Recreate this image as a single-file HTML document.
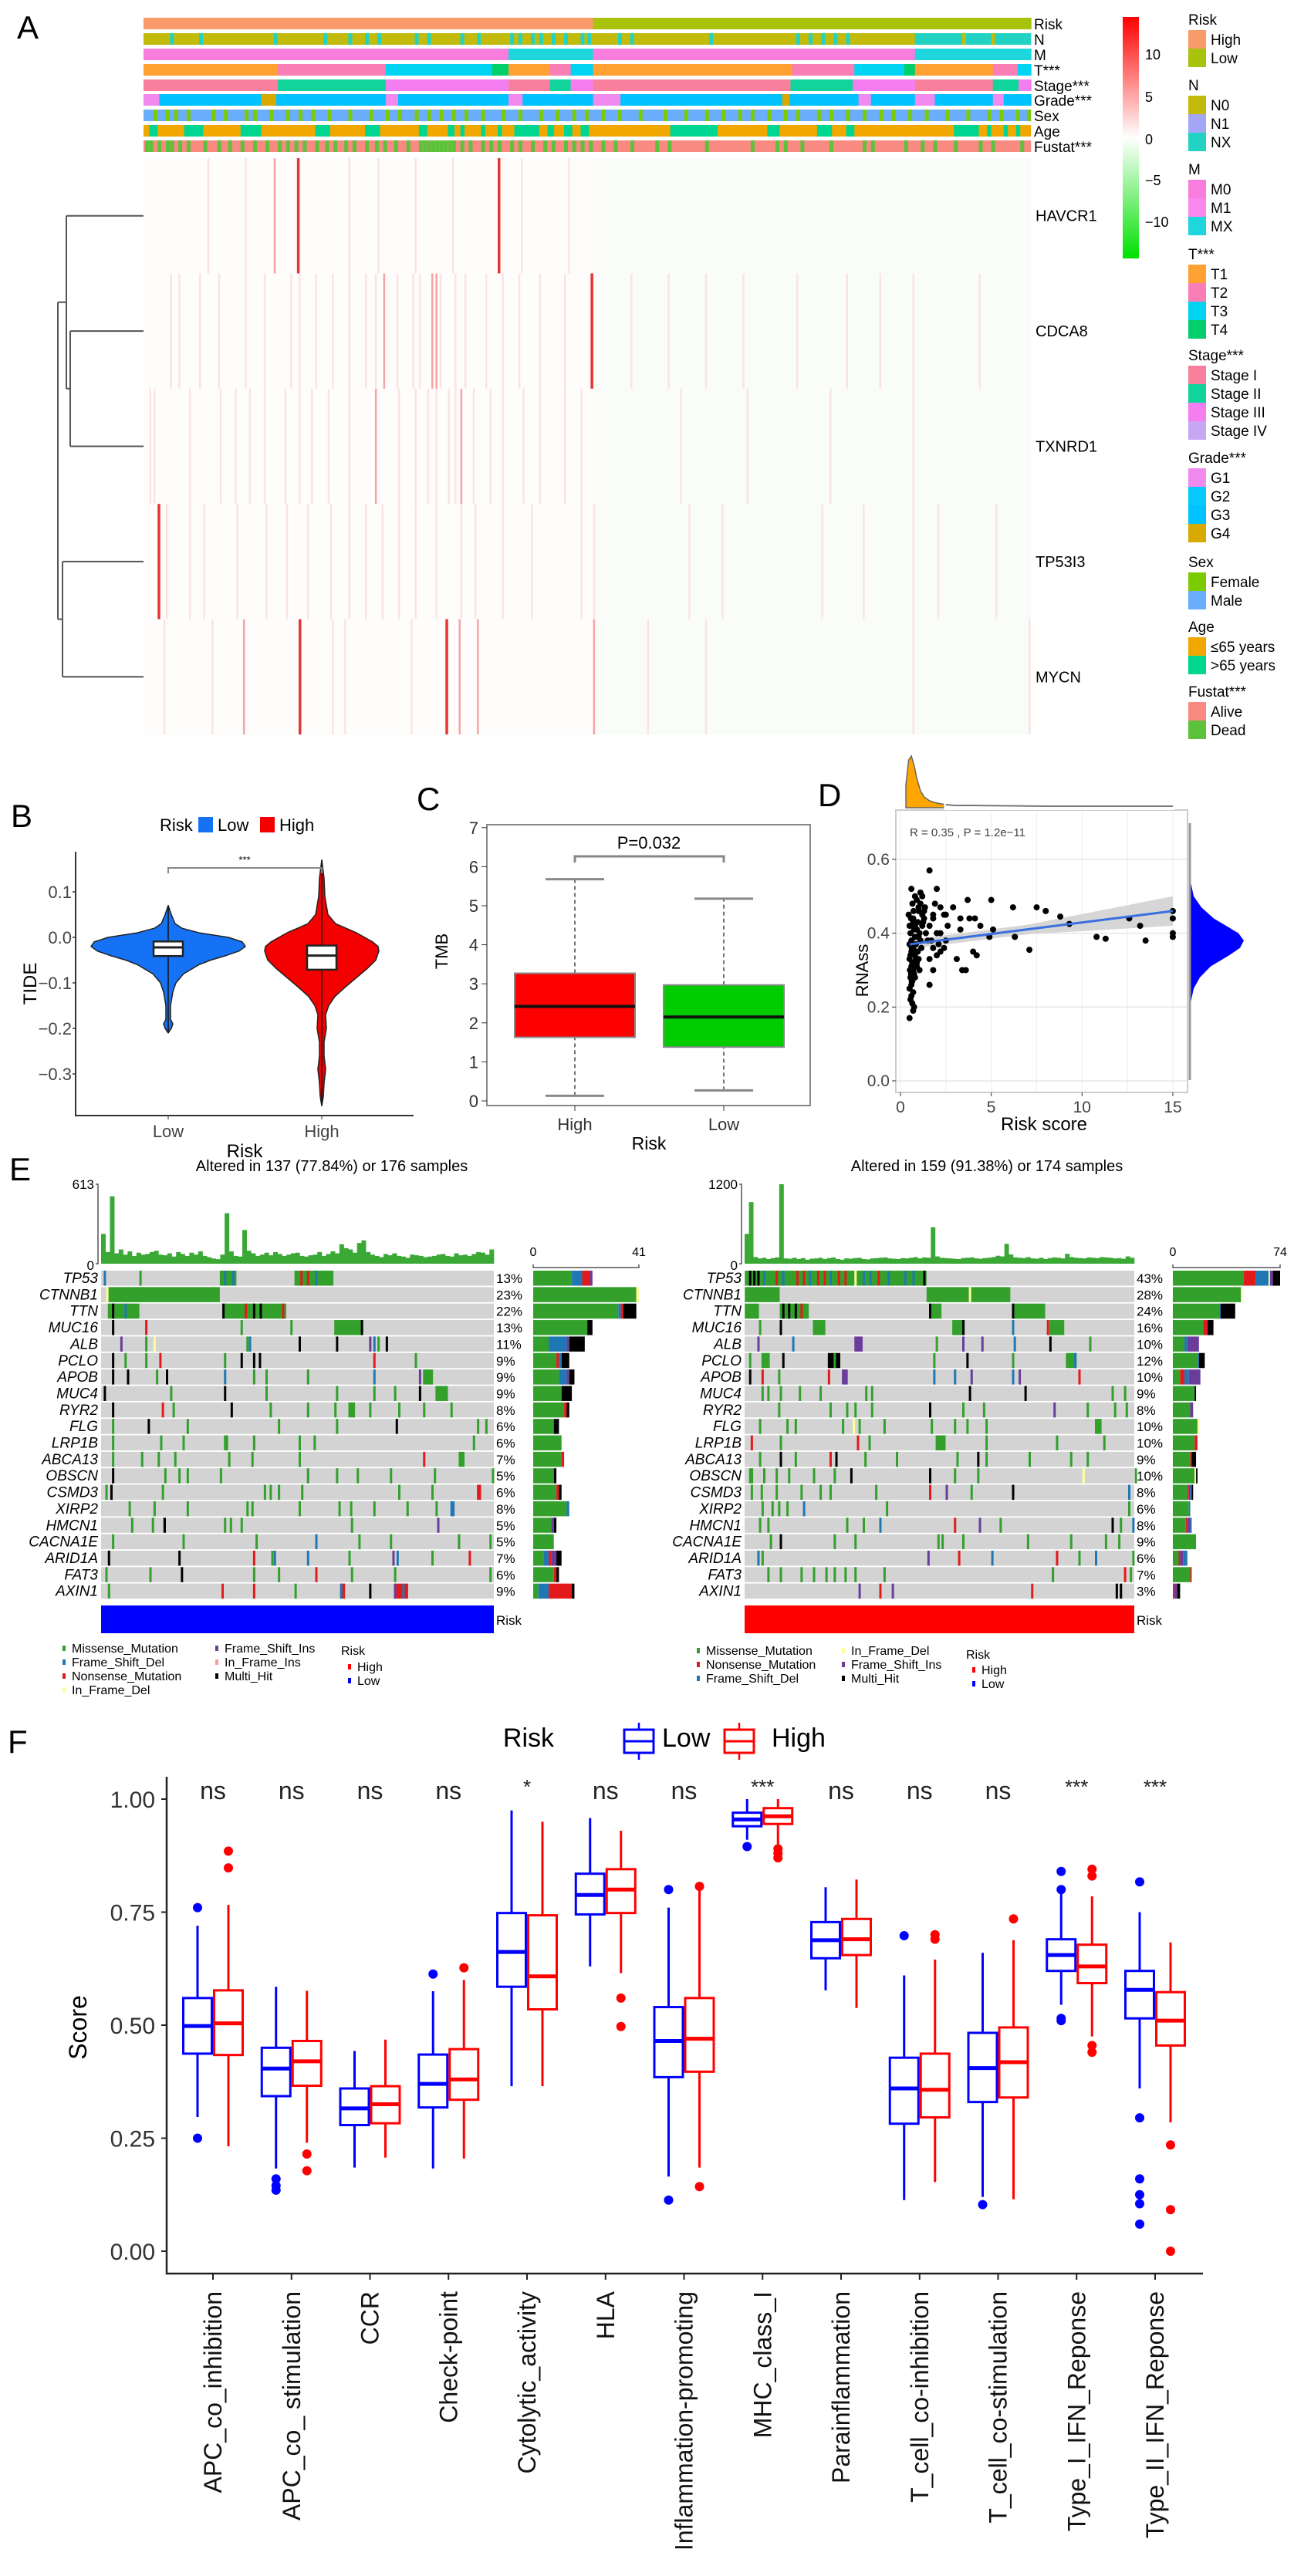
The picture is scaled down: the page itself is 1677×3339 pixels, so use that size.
<!DOCTYPE html>
<html><head><meta charset="utf-8"><title>Figure</title>
<style>
html,body{margin:0;padding:0;background:#fff;}
svg{display:block;font-family:"Liberation Sans",sans-serif;}
.nar{font-family:"Liberation Sans Narrow","Liberation Sans",sans-serif;}
</style></head>
<body>
<svg id="fig" xmlns="http://www.w3.org/2000/svg" width="1677" height="3339" viewBox="0 0 1677 3339">
<rect x="0" y="0" width="1677" height="3339" fill="#ffffff"/>
<defs>
<linearGradient id="cbar" x1="0" y1="0" x2="0" y2="1">
<stop offset="0" stop-color="#FF0000"/><stop offset="0.5" stop-color="#FFFFFF"/><stop offset="1" stop-color="#00E000"/>
</linearGradient>
</defs>
<text x="22" y="50" font-size="42">A</text>
<text x="14" y="1072" font-size="42">B</text>
<text x="540" y="1050" font-size="42">C</text>
<text x="1060" y="1045" font-size="42">D</text>
<text x="12" y="1530" font-size="42">E</text>
<text x="10" y="2272" font-size="42">F</text>
</svg>
<script>
const svg=document.getElementById('fig');
const NS='http://www.w3.org/2000/svg';
function add(tag,a,name,parent){
  const el=document.createElementNS(NS,tag);
  for(const k in a) el.setAttribute(k,a[k]);
  
  
  (parent||svg).appendChild(el);
  return el;
}
function txt(x,y,s,name,a){const t=add('text',Object.assign({x:x,y:y},a||{}),name);t.textContent=s;return t;}
const dx=d=>d*1.075;

/* ================= PANEL A: heatmap ================= */
const annoNames=['Risk','N','M','T***','Stage***','Grade***','Sex','Age','Fustat***'];
const annoTop=[23,43,63,83,103,122,142,162,182];
const C={High:'#F99A6B',Low:'#A9C20C',N0:'#C3BB0B',N1:'#A3A6F5',NX:'#22D3C3',M0:'#F97DDD',M1:'#F888EE',MX:'#1DD6DE',
T1:'#FFA033',T2:'#F87EB5',T3:'#00D4F2',T4:'#00CF6B',S1:'#F8809D',S2:'#10D49C',S3:'#F47EF0',S4:'#C7A6F3',
G1:'#F08AEE',G2:'#08C9FC',G3:'#00C2FF',G4:'#D8AA00',Female:'#7CCB00',Male:'#6AAEFB',Y1:'#F0A800',Y2:'#00D68F',Alive:'#F88A82',Dead:'#5CC23C'};
const riskSeg=[[173,715,'High'],[715,1243,'Low']];
const mSeg=[[173,613,'M0'],[613,715,'MX'],[715,1103,'M0'],[1103,1243,'MX']];
const tSeg=[[173,335,'T1'],[335,465,'T2'],[465,593,'T3'],[593,613,'T4'],[613,663,'T1'],[663,688,'T2'],[688,715,'T3'],[715,955,'T1'],[955,1030,'T2'],[1030,1090,'T3'],[1090,1103,'T4'],[1103,1197,'T1'],[1197,1227,'T2'],[1227,1243,'T3']];
const stageSeg=[[173,335,'S1'],[335,465,'S2'],[465,613,'S3'],[613,663,'S1'],[663,688,'S2'],[688,715,'S3'],[715,953,'S1'],[953,1028,'S2'],[1028,1103,'S3'],[1103,1197,'S1'],[1197,1228,'S2'],[1228,1243,'S3']];
const gradeSeg=[[173,192,'G1'],[192,315,'G3'],[315,333,'G4'],[333,465,'G3'],[465,480,'G1'],[480,613,'G3'],[613,630,'G1'],[630,715,'G3'],[715,748,'G1'],[748,943,'G3'],[943,952,'G4'],[952,1035,'G3'],[1035,1050,'G1'],[1050,1103,'G3'],[1103,1127,'G1'],[1127,1197,'G3'],[1197,1210,'G1'],[1210,1243,'G3']];
const nStripes=[205,240,330,390,420,440,455,500,515,555,575,615,625,640,650,665,680,700,708,745,760,855,960,975,990,1005,1020];
const nxBlock=[1103,1243]; const n0InBlock=[1160,1195];
const sexStripes=[185,200,210,225,255,270,295,305,325,345,360,375,395,420,445,465,480,500,515,530,545,560,580,605,625,650,670,690,705,725,745,770,800,825,850,870,890,905,925,945,960,985,1000,1020,1040,1060,1075,1095,1115,1140,1165,1190,1205,1225,1238];
const ageBlocks=[[180,190],[222,245],[290,315],[380,398],[440,458],[505,515],[540,548],[555,560],[580,585],[600,605],[620,650],[660,668],[680,690],[700,710],[808,865],[925,940],[985,1003],[1020,1030],[1150,1180],[1190,1195],[1210,1215],[1225,1230]];
const fuStripes=[175,180,190,200,205,215,225,245,262,275,290,305,320,335,345,355,365,380,392,402,415,425,440,452,462,475,490,505,510,515,520,525,530,535,540,545,555,565,580,590,600,615,625,640,655,665,680,690,700,710,725,740,760,790,805,850,905,935,945,965,1000,1040,1050,1090,1110,1125,1150,1180,1195,1230];
function segRow(row,segs,nm){segs.forEach(s=>{add('rect',{x:dx(s[0]),y:annoTop[row],width:dx(s[1])-dx(s[0])+0.5,height:15,fill:C[s[2]]},nm);});}
function stripeRow(row,base,col,list,w,nm){
  add('rect',{x:dx(173),y:annoTop[row],width:dx(1243)-dx(173),height:15,fill:base},nm+'-base');
  list.forEach(p=>{add('rect',{x:dx(p),y:annoTop[row],width:w,height:15,fill:col},nm);});
}
segRow(0,riskSeg,'risk-annotation-segment');
stripeRow(1,C.N0,C.NX,nStripes,5,'n-annotation-stripe');
add('rect',{x:dx(nxBlock[0]),y:annoTop[1],width:dx(nxBlock[1])-dx(nxBlock[0]),height:15,fill:C.NX},'n-annotation-block');
n0InBlock.forEach(p=>{add('rect',{x:dx(p),y:annoTop[1],width:5,height:15,fill:C.N0},'n-annotation-stripe');});
segRow(2,mSeg,'m-annotation-segment');
segRow(3,tSeg,'t-annotation-segment');
segRow(4,stageSeg,'stage-annotation-segment');
segRow(5,gradeSeg,'grade-annotation-segment');
stripeRow(6,C.Male,C.Female,sexStripes,5,'sex-annotation-stripe');
add('rect',{x:dx(173),y:annoTop[7],width:dx(1243)-dx(173),height:15,fill:C.Y1},'age-annotation-base');
ageBlocks.forEach(b=>{add('rect',{x:dx(b[0]),y:annoTop[7],width:dx(b[1])-dx(b[0]),height:15,fill:C.Y2},'age-annotation-block');});
stripeRow(8,C.Alive,C.Dead,fuStripes,5,'fustat-annotation-stripe');
annoNames.forEach((n,i)=>{txt(1340,annoTop[i]+15,n,'annotation-label-'+i,{'font-size':19,class:'nar'});});

const genes=['HAVCR1','CDCA8','TXNRD1','TP53I3','MYCN'];
const hmTop=205, hmH=149.4;
const hmStripes=[
 [[295,1],[330,2],[358,3],[455,1],[545,1],[600,3],[628,1],[685,1],[250,1],[420,1],[500,1]],
 [[205,1],[215,1],[240,1],[263,1],[295,1],[318,1],[350,1],[360,1],[380,1],[400,1],[420,1],[440,1],[452,1],[462,2],[478,1],[497,1],[505,1],[520,2],[525,2],[530,1],[548,1],[560,1],[585,1],[605,1],[625,1],[650,1],[680,1],[712,3],[760,1],[805,1],[850,1],[895,1],[960,1],[1020,1],[1060,1],[1100,1],[1180,1]],
 [[180,1],[185,1],[228,1],[265,1],[283,1],[300,1],[318,1],[343,1],[360,1],[375,1],[395,1],[420,1],[452,2],[480,1],[500,1],[515,1],[525,1],[540,1],[548,1],[555,2],[570,1],[590,1],[605,1],[630,1],[650,1],[680,1],[700,1],[820,1],[900,1],[1000,1],[1100,1]],
 [[190,3],[200,1],[228,1],[245,1],[285,1],[320,1],[345,1],[370,1],[398,1],[420,1],[440,1],[460,1],[480,1],[500,1],[525,1],[555,1],[572,1],[605,1],[640,1],[700,1],[715,1],[830,1],[870,1],[990,1],[1040,1],[1100,1],[1130,1],[1200,1]],
 [[197,1],[255,1],[293,2],[360,3],[400,1],[415,1],[495,1],[537,3],[553,2],[575,2],[715,2],[780,1],[850,1],[1100,1],[1240,1]]
];
const hmCol=['#FCE3E3','#F6A3A3','#E53535'];
add('rect',{x:dx(173),y:hmTop,width:dx(715)-dx(173),height:hmH*5,fill:'#FFFDFC'},'heatmap-bg-high');
add('rect',{x:dx(715),y:hmTop,width:dx(1243)-dx(715),height:hmH*5,fill:'#F9FCF9'},'heatmap-bg-low');
hmStripes.forEach((row,g)=>{row.forEach(s=>{
  add('rect',{x:dx(s[0]),y:hmTop+g*hmH,width:s[1]==3?3.5:2.5,height:hmH,fill:hmCol[s[1]-1]},'heatmap-cell-'+genes[g]);
});});
genes.forEach((g,i)=>{txt(1342,hmTop+hmH*(i+0.5)+7,g,'gene-label-'+g,{'font-size':20,class:'nar'});});
const ly=i=>hmTop+hmH*(i+0.5);
const dend=[[186,ly(0),86],[186,ly(1),91],[186,ly(2),91],[186,ly(3),81],[186,ly(4),81]];
dend.forEach((d,i)=>{add('line',{x1:d[0],y1:d[1],x2:d[2],y2:d[1],stroke:'#555',"stroke-width":2},'dendrogram-leaf-'+i);});
const c12=(ly(1)+ly(2))/2, c012=(ly(0)+c12)/2, c34=(ly(3)+ly(4))/2;
add('path',{d:`M91 ${ly(1)}V${ly(2)}M91 ${c12}H86M86 ${ly(0)}V${c12}M86 ${c012}H75M81 ${ly(3)}V${ly(4)}M81 ${c34}H75M75 ${c012}V${c34}`,stroke:'#555','stroke-width':2,fill:'none'},'dendrogram-branches');
add('rect',{x:1455,y:22,width:21,height:313,fill:'url(#cbar)'},'colorbar');
[[10,70],[5,125],[0,180],[-5,233],[-10,287]].forEach(t=>{txt(1484,t[1]+7,t[0]<0?'\u2212'+(-t[0]):String(t[0]),'colorbar-tick',{'font-size':18,class:'nar'});});
const legGroups=[
 ['Risk',32,[['High',C.High],['Low',C.Low]]],
 ['N',117,[['N0',C.N0],['N1',C.N1],['NX',C.NX]]],
 ['M',226,[['M0',C.M0],['M1',C.M1],['MX',C.MX]]],
 ['T***',336,[['T1',C.T1],['T2',C.T2],['T3',C.T3],['T4',C.T4]]],
 ['Stage***',467,[['Stage I',C.S1],['Stage II',C.S2],['Stage III',C.S3],['Stage IV',C.S4]]],
 ['Grade***',600,[['G1',C.G1],['G2',C.G2],['G3',C.G3],['G4',C.G4]]],
 ['Sex',735,[['Female',C.Female],['Male',C.Male]]],
 ['Age',819,[['\u226465 years',C.Y1],['>65 years',C.Y2]]],
 ['Fustat***',903,[['Alive',C.Alive],['Dead',C.Dead]]]
];
legGroups.forEach(g=>{
  txt(1540,g[1],g[0],'legend-title-'+g[0].replace(/\W/g,''),{'font-size':19,class:'nar'});
  g[2].forEach((it,i)=>{
    const y=g[1]+7+i*24;
    add('rect',{x:1540,y:y,width:23,height:24,fill:it[1]},'legend-swatch');
    txt(1569,y+19,it[0],'legend-entry',{'font-size':19,class:'nar'});
  });
});

/* ================= PANEL B: violin ================= */
const bY=v=>1215-v*590;
const bLowX=218, bHighX=417;
const lowDensY=[0.07,0.05,0.03,0.02,0.01,0.0,-0.01,-0.02,-0.03,-0.04,-0.05,-0.06,-0.08,-0.10,-0.12,-0.15,-0.18,-0.19,-0.20,-0.21];
const lowDensW=[0,4,9,18,40,78,96,100,92,75,55,40,20,10,6,3,3,6,4,0];
const highDensY=[0.17,0.13,0.09,0.05,0.03,0.01,-0.01,-0.02,-0.03,-0.05,-0.07,-0.09,-0.11,-0.13,-0.15,-0.17,-0.20,-0.23,-0.26,-0.29,-0.32,-0.35,-0.37];
const highDensW=[0,3,4,8,18,45,66,73,74,70,58,44,30,17,9,5,6,3,3,5,3,2,0];
const lowBox=[-0.041,-0.022,-0.009]; const highBox=[-0.071,-0.040,-0.018];
function violin(cx,ys,ws,col,nm){
  let d='';ys.forEach((v,i)=>{d+=(i?'L':'M')+(cx+ws[i])+' '+bY(v);});
  for(let i=ys.length-1;i>=0;i--) d+='L'+(cx-ws[i])+' '+bY(ys[i]);
  add('path',{d:d+'Z',fill:col,stroke:'#222','stroke-width':1.5,'stroke-linejoin':'round'},nm);
  add('line',{x1:cx,y1:bY(ys[0]),x2:cx,y2:bY(ys[ys.length-1]),stroke:'#111','stroke-width':1.5},nm+'-whisker');
}
violin(bLowX,lowDensY,lowDensW,'#1572F5','violin-low');
violin(bHighX,highDensY,highDensW,'#F40000','violin-high');
[[bLowX,lowBox,'low'],[bHighX,highBox,'high']].forEach(b=>{
  add('rect',{x:b[0]-19,y:bY(b[1][2]),width:38,height:bY(b[1][0])-bY(b[1][2]),fill:'#fff',stroke:'#222','stroke-width':2.5},'violin-box-'+b[2]);
  add('line',{x1:b[0]-19,x2:b[0]+19,y1:bY(b[1][1]),y2:bY(b[1][1]),stroke:'#222','stroke-width':3},'violin-median-'+b[2]);
});
add('path',{d:'M98 1104V1446H536',stroke:'#333','stroke-width':2,fill:'none'},'b-axes');
const bTicks=[0.1,0.0,-0.1,-0.2,-0.3];
bTicks.forEach(t=>{add('line',{x1:94,x2:98,y1:bY(t),y2:bY(t),stroke:'#333','stroke-width':1.5},'b-ytick');
  txt(93,bY(t)+8,(t<0?'\u2212':'')+Math.abs(t).toFixed(1),'b-ytick-label',{'font-size':22,'text-anchor':'end',fill:'#444'});});
[[bLowX,'Low'],[bHighX,'High']].forEach(t=>{add('line',{x1:t[0],x2:t[0],y1:1446,y2:1451,stroke:'#333'},'b-xtick');txt(t[0],1474,t[1],'b-xtick-label',{'font-size':22,'text-anchor':'middle',fill:'#444'});});
txt(317,1500,'Risk','b-x-title',{'font-size':24,'text-anchor':'middle'});
txt(47,1275,'TIDE','b-y-title',{'font-size':24,'text-anchor':'middle',transform:'rotate(-90 47 1275)'});
add('path',{d:'M218 1132V1125H417V1132',stroke:'#888','stroke-width':2,fill:'none'},'b-sig-bracket');
txt(317,1119,'***','b-sig-label',{'font-size':13,'text-anchor':'middle'});
txt(207,1077,'Risk','b-legend-title',{'font-size':22});
add('rect',{x:257,y:1059,width:19,height:20,fill:'#1572F5'},'b-legend-low-swatch');
txt(282,1077,'Low','b-legend-low',{'font-size':22});
add('rect',{x:337,y:1059,width:19,height:20,fill:'#F40000'},'b-legend-high-swatch');
txt(362,1077,'High','b-legend-high',{'font-size':22});

/* ================= PANEL C: TMB boxplot ================= */
const cY=v=>1427-v*50.6;
const cCats=['High','Low']; const cX=[745,938];
const cStats=[[0.13,1.63,2.42,3.27,5.68],[0.27,1.38,2.15,2.97,5.18]];
const cCol=['#FF0000','#00CC00'];
add('rect',{x:631,y:1069,width:419,height:364,fill:'none',stroke:'#888','stroke-width':2},'c-frame');
cStats.forEach((s,i)=>{
  const x=cX[i];
  add('line',{x1:x,x2:x,y1:cY(s[0]),y2:cY(s[1]),stroke:'#444','stroke-width':1.5,'stroke-dasharray':'5,4'},'c-whisker-low-'+cCats[i]);
  add('line',{x1:x,x2:x,y1:cY(s[3]),y2:cY(s[4]),stroke:'#444','stroke-width':1.5,'stroke-dasharray':'5,4'},'c-whisker-high-'+cCats[i]);
  add('line',{x1:x-38,x2:x+38,y1:cY(s[0]),y2:cY(s[0]),stroke:'#888','stroke-width':3},'c-cap');
  add('line',{x1:x-38,x2:x+38,y1:cY(s[4]),y2:cY(s[4]),stroke:'#888','stroke-width':3},'c-cap');
  add('rect',{x:x-78,y:cY(s[3]),width:156,height:cY(s[1])-cY(s[3]),fill:cCol[i],stroke:'#888','stroke-width':2},'c-box-'+cCats[i]);
  add('line',{x1:x-78,x2:x+78,y1:cY(s[2]),y2:cY(s[2]),stroke:'#111','stroke-width':4},'c-median-'+cCats[i]);
  add('line',{x1:x,x2:x,y1:1433,y2:1440,stroke:'#333'},'c-xtick');
  txt(x,1465,cCats[i],'c-xtick-label',{'font-size':22,'text-anchor':'middle',fill:'#333'});
});
[0,1,2,3,4,5,6,7].forEach(t=>{add('line',{x1:624,x2:631,y1:cY(t),y2:cY(t),stroke:'#333'},'c-ytick');txt(620,cY(t)+8,String(t),'c-ytick-label',{'font-size':22,'text-anchor':'end',fill:'#333'});});
txt(841,1490,'Risk','c-x-title',{'font-size':23,'text-anchor':'middle'});
txt(580,1233,'TMB','c-y-title',{'font-size':22,'text-anchor':'middle',transform:'rotate(-90 580 1233)'});
add('path',{d:'M745 1118V1110H938V1118',stroke:'#888','stroke-width':3,fill:'none'},'c-sig-bracket');
txt(841,1100,'P=0.032','c-pvalue',{'font-size':22,'text-anchor':'middle'});

/* ================= PANEL D: scatter ================= */
const dX=v=>1167+v*23.53, dY=v=>1401-v*478.5;
const ptX=[0.45,0.5,0.55,0.6,0.62,0.7,0.75,0.8,0.85,0.9,0.95,1.0,1.05,1.1,1.15,1.2,1.3,1.4,1.5,0.5,0.6,0.7,0.8,0.9,1.0,1.1,1.2,0.55,0.65,0.75,0.85,0.95,1.05,1.25,1.35,0.5,0.6,0.7,0.8,0.9,1.0,0.55,0.65,0.75,0.6,0.7,0.5,0.58,0.66,0.8,0.9,1.0,1.1,1.2,1.3,0.6,0.7,0.8,0.9,1.0,0.5,0.6,0.7,0.55,0.65,0.52,0.62,0.58,0.72,1.6,1.7,1.8,1.9,2.0,2.1,2.2,1.6,1.8,2.0,2.2,2.4,2.5,2.6,2.9,1.8,2.0,1.6,3.7,5.0,6.2,7.5,8.0,8.8,4.1,4.4,3.3,5.1,4.9,6.3,7.1,9.3,10.8,11.3,12.6,13.2,13.5,15.0,15.0,15.0,15.0,3.1,3.4,3.6,4.0,4.2,2.5,2.4,2.2,1.8,1.6,3.3,3.8];
const ptY=[0.45,0.42,0.40,0.38,0.36,0.44,0.41,0.39,0.37,0.35,0.43,0.46,0.40,0.38,0.36,0.42,0.44,0.40,0.38,0.33,0.31,0.30,0.34,0.32,0.47,0.48,0.45,0.28,0.27,0.29,0.33,0.35,0.30,0.43,0.47,0.25,0.26,0.24,0.28,0.31,0.33,0.22,0.21,0.20,0.23,0.19,0.17,0.29,0.48,0.50,0.49,0.47,0.51,0.50,0.46,0.52,0.43,0.42,0.41,0.39,0.37,0.35,0.36,0.34,0.32,0.30,0.27,0.44,0.46,0.42,0.38,0.36,0.48,0.40,0.37,0.35,0.33,0.44,0.52,0.47,0.45,0.38,0.42,0.47,0.30,0.34,0.26,0.49,0.49,0.47,0.47,0.46,0.445,0.44,0.42,0.41,0.41,0.39,0.39,0.355,0.425,0.39,0.385,0.44,0.42,0.38,0.46,0.44,0.39,0.40,0.33,0.30,0.30,0.35,0.34,0.45,0.36,0.40,0.45,0.57,0.44,0.44];
const topDensX=[0.3,0.45,0.6,0.75,0.9,1.1,1.3,1.6,2.0,2.5,3,4,6,8,10,12,15];
const topDensV=[30,62,67,55,38,22,14,9,6,4,3,3,2.5,2,2,2,2];
const rightDensY=[0.15,0.2,0.25,0.28,0.31,0.34,0.36,0.38,0.40,0.42,0.44,0.47,0.50,0.55,0.6];
const rightDensV=[0,1,6,14,28,52,66,71,64,48,32,16,6,1,0];
const fitX=[0.5,15], fitY=[0.37,0.46];
for(let x=0;x<=15;x+=2.5){add('line',{x1:dX(x),x2:dX(x),y1:1050,y2:1416,stroke:'#eee','stroke-width':1},'d-gridline');}
[0,0.2,0.4,0.6].forEach(v=>{add('line',{x1:1161,x2:1539,y1:dY(v),y2:dY(v),stroke:'#e6e6e6','stroke-width':1.5},'d-gridline');});
add('rect',{x:1161,y:1050,width:378,height:366,fill:'none',stroke:'#ccc','stroke-width':2},'d-frame');
add('path',{d:`M${dX(fitX[0])} ${dY(fitY[0]-0.012)}L${dX(7)} ${dY(0.409-0.012)}L${dX(fitX[1])} ${dY(fitY[1]-0.04)}L${dX(fitX[1])} ${dY(fitY[1]+0.04)}L${dX(7)} ${dY(0.409+0.014)}L${dX(fitX[0])} ${dY(fitY[0]+0.012)}Z`,fill:'#cfcfcf',opacity:0.85},'d-confidence-band');
ptX.forEach((x,i)=>{add('circle',{cx:dX(x),cy:dY(ptY[i]),r:4,fill:'#000'},'d-point');});
add('line',{x1:dX(fitX[0]),y1:dY(fitY[0]),x2:dX(fitX[1]),y2:dY(fitY[1]),stroke:'#3A6FE0','stroke-width':3},'d-fit-line');
let td='M'+dX(topDensX[0])+' 1047';topDensX.forEach((x,i)=>{td+='L'+dX(x)+' '+(1047-topDensV[i]);});td+='L'+dX(15)+' 1047Z';
add('path',{d:td,fill:'#FFA500',stroke:'#666','stroke-width':1.5},'d-top-density');
add('rect',{x:dX(2.4),y:1038,width:dX(15)-dX(2.4)+2,height:12,fill:'#fff'},'d-top-density-tailmask');
let tl='';topDensX.forEach((x,i)=>{if(x>=2.4) tl+=(tl?'L':'M')+dX(x)+' '+(1047-topDensV[i]);});
add('path',{d:tl,fill:'none',stroke:'#777','stroke-width':2},'d-top-density-tail');
let rd='M1541 '+dY(rightDensY[0]);rightDensY.forEach((y,i)=>{rd+='L'+(1541+rightDensV[i])+' '+dY(y);});rd+='L1541 '+dY(0.6)+'Z';
add('path',{d:rd,fill:'#0000FF'},'d-right-density');
add('line',{x1:1542,x2:1542,y1:1067,y2:1400,stroke:'#999','stroke-width':3},'d-right-density-axis');
[0,0.2,0.4,0.6].forEach(v=>{add('line',{x1:1156,x2:1161,y1:dY(v),y2:dY(v),stroke:'#333'},'d-ytick');txt(1153,dY(v)+7,v.toFixed(1),'d-ytick-label',{'font-size':21,'text-anchor':'end',fill:'#444'});});
[0,5,10,15].forEach(v=>{add('line',{x1:dX(v),x2:dX(v),y1:1416,y2:1421,stroke:'#333'},'d-xtick');txt(dX(v),1442,String(v),'d-xtick-label',{'font-size':21,'text-anchor':'middle',fill:'#444'});});
txt(1353,1465,'Risk score','d-x-title',{'font-size':24,'text-anchor':'middle'});
txt(1125,1258,'RNAss','d-y-title',{'font-size':22,'text-anchor':'middle',transform:'rotate(-90 1125 1258)'});
txt(1179,1084,'R = 0.35 , P = 1.2e\u221211','d-correlation-label',{'font-size':15,fill:'#444'});

/* ================= PANEL E: oncoprints ================= */
const mutCol={g:'#33A02C',b:'#1F78B4',r:'#E31A1C',y:'#FFFF99',p:'#6A3D9A',i:'#FB9A99',k:'#000000'};
const eGenes=['TP53','CTNNB1','TTN','MUC16','ALB','PCLO','APOB','MUC4','RYR2','FLG','LRP1B','ABCA13','OBSCN','CSMD3','XIRP2','HMCN1','CACNA1E','ARID1A','FAT3','AXIN1'];
const rowTop=1647, rowP=21.35, rowH=19.5;
const leftMut=['265-285g 355-402g 125b 168g 270b 280b 362r 370r 380b','130-265g 128y','130-168g 270-345g 135k 150b 268k 295r 305k 313k 340r','403-437g 135k 175r 290g 350g 435k','145p 175g 185y 297g 300b 360k 405k 445p 450b 455g 465k','135k 150g 175g 192r 270g 290k 305k 312k 450r 500g','510-522g 135k 153k 188g 200k 270b 305g 320g 370g 450b 505p','525-540g 125k 205g 270k 320g 405g 450g 475g 505k','420-428g 135k 195r 208g 278k 325g 370g 403g 445g 480g 510g 543g','135g 178k 225g 335g 405g 477k 575g 585g','270-275g 135g 193g 220g 305g 360g 378g 570g','553-560g 135g 170g 190g 210g 275g 303g 360g 510r','135k 198g 215g 225g 265g 370g 405g 430g 470g 523g 593g','575-580r 127g 133k 195g 318g 325g 335g 363g 480g 520g','543-548b 155g 185g 225g 297g 303g 360g 408g 422g 450g 490g 525g','197-200k 158g 183g 270g 277g 290g 423g 527p','135g 220g 308g 380b 432g 470g 552g 590g','130k 215k 305r 327g 330b 370b 420g 473p 478b 520g 565r','127g 180g 218k 305g 335g 380r 423g 475g 590g','410-416r 475-492r 130g 267r 305r 355g 410b 445k 475p 485b'];
const rightMut=['898-1117g 903k 908k 913k 920b 935r 943b 960r 968r 975b 985r 993r 1000b 1010r 1018r 1030y 1040b 1048b 1058r 1070b 1090b 1100b 1113k','898-940g 1117-1218g 1168y','898-915g 940-975g 1122-1135g 1222-1260g 943k 950k 958k 965r 1120k 1220k','980-995g 1148-1163g 1265-1283g 915g 940k 1160k 1220b 1262r','1030-1040p 913p 955b 1128g 1160p 1183p 1222b 1265k 1313g','918-928g 998-1013k 1285-1298g 903g 943k 1005g 1125g 1165k 1220g 1295b','1015-1022p 903k 918r 938g 998r 1125b 1150b 1170p 1220b 1228p 1300r','918g 925g 940g 963g 988g 1043g 1050g 1168k 1235k 1340g 1355g','938g 1000g 1020g 1030g 1050g 1120k 1160g 1185g 1270p 1310g 1343g 1357g','1320-1328g 915g 948g 958g 1015g 1028y 1035g 1065g 1122g 1150g 1165g 1188g','1128-1140g 905r 940g 1033r 1047g 1188g 1273g 1330g','915g 940k 958g 1000r 1007k 1042g 1080g 1153g 1178k 1188g 1240g 1290g 1310g','903-908g 920g 935g 950g 980g 1005g 1025k 1120k 1150g 1178g 1305y 1368g','905g 917g 935g 965g 988g 1000g 1055g 1120r 1140p 1170g 1220k 1360b','918g 930g 938g 948g 968b 1068g 1360g','915g 925g 1020g 1040g 1060b 1150r 1180p 1205g 1340k 1350g 1365b','928g 940k 1005g 1030g 1130g 1135g 1160g 1238g 1290g 1332g 1348g','913b 918g 1118p 1155r 1195b 1273r 1300g 1320b 1365g','925g 940g 965g 980g 995g 1005g 1018g 1030g 1065g 1268g 1355r 1362g','1035p 1060r 1075p 1243r 1345k 1350k'];
const leftPct=['13%','23%','22%','13%','11%','9%','9%','9%','8%','6%','6%','7%','5%','6%','8%','5%','5%','7%','6%','9%'];
const rightPct=['43%','28%','24%','16%','10%','12%','10%','9%','8%','10%','10%','9%','10%','8%','6%','8%','9%','6%','7%','3%'];
const leftStack=[[['g',15],['b',4],['r',3],['p',1]],[['g',40],['y',1]],[['g',33],['b',1],['r',1],['k',5]],[['g',21],['k',2]],[['g',6],['b',7],['p',1],['k',6]],[['g',9],['r',1],['b',1],['k',3]],[['g',10],['b',3],['p',1],['k',2]],[['g',11],['k',4]],[['g',12],['r',1],['k',1]],[['g',8],['k',2]],[['g',11]],[['g',11],['r',1]],[['g',8],['k',1]],[['g',9],['r',1],['k',1]],[['g',13],['b',1]],[['g',7],['p',1],['k',1]],[['g',8]],[['g',4],['b',2],['r',1],['p',2],['k',2]],[['g',8],['r',1],['k',1]],[['g',2],['b',4],['r',9],['k',1]]];
const rightStack=[[['g',49],['r',8],['b',9],['y',1],['p',2],['k',5]],[['g',47],['y',1]],[['g',32],['b',1],['k',10]],[['g',21],['r',3],['k',4]],[['g',8],['b',2],['p',8]],[['g',17],['b',1],['k',4]],[['g',5],['r',3],['b',3],['p',8]],[['g',15],['k',1]],[['g',12],['p',2]],[['g',17],['y',1]],[['g',15],['r',2]],[['g',12],['r',1],['k',3]],[['g',15],['y',1],['k',1]],[['g',10],['r',1],['p',1],['b',1],['k',1]],[['g',11],['b',1]],[['g',9],['r',1],['p',2],['b',1]],[['g',16]],[['g',4],['r',1],['p',2],['b',3]],[['g',12],['r',1]],[['r',1],['p',2],['k',2]]];
const leftTMB=[230,90,520,80,110,70,95,60,85,70,75,90,100,70,65,80,55,90,75,60,85,70,95,60,50,40,35,70,390,95,60,55,260,100,80,60,70,85,65,90,75,60,70,80,85,60,55,65,70,90,60,75,95,80,150,120,110,85,160,180,90,70,60,50,75,65,80,60,55,45,70,65,60,50,55,60,70,75,60,55,80,65,70,60,75,90,85,70,110];
const rightTMB=[450,930,100,80,90,70,85,95,1200,80,75,90,70,85,60,75,80,90,70,85,95,70,60,80,75,85,90,70,65,80,85,90,95,80,75,70,85,80,90,100,80,95,90,550,110,90,85,80,75,70,85,90,95,80,75,85,90,100,120,110,300,140,95,90,85,100,80,75,90,70,85,95,90,80,150,100,90,85,80,95,90,85,100,95,90,80,85,75,110,90];
function oncoprint(side,x0,x1,dconv,muts,pcts,stacks,tmb,tmbMax,barX0,barPx,barMax,title,titleX,tmbLabel){
  txt(titleX,1518,title,'e-title-'+side,{'font-size':20,'text-anchor':'middle',class:'nar'});
  const bw=(x1-x0)/tmb.length;
  tmb.forEach((v,i)=>{const h=v/tmbMax*103;add('rect',{x:x0+i*bw,y:1638-h,width:bw+0.3,height:h,fill:'#3AA835'},'e-tmb-bar-'+side);});
  add('path',{d:`M${x0-7} 1535H${x0-4}V1638H${x0-7}`,stroke:'#555','stroke-width':1.5,fill:'none'},'e-tmb-axis-'+side);
  txt(x0-9,1541,tmbLabel,'e-tmb-max-'+side,{'font-size':17,'text-anchor':'end',class:'nar'});
  txt(x0-9,1646,'0','e-tmb-zero-'+side,{'font-size':17,'text-anchor':'end',class:'nar'});
  add('path',{d:`M${barX0} 1639V1643H${barX0+barPx}V1639`,stroke:'#555','stroke-width':1.5,fill:'none'},'e-count-axis-'+side);
  txt(barX0,1628,'0','e-count-zero-'+side,{'font-size':16,'text-anchor':'middle',class:'nar'});
  txt(barX0+barPx,1628,String(barMax),'e-count-max-'+side,{'font-size':16,'text-anchor':'middle',class:'nar'});
  eGenes.forEach((g,r)=>{
    const y=rowTop+r*rowP;
    add('rect',{x:x0,y:y,width:x1-x0,height:rowH,fill:'#D3D3D3'},'e-row-bg-'+side);
    const toks=muts[r].split(' ').map(t=>t.match(/(\d+)(?:-(\d+))?([a-z])/));
    toks.sort((a,b)=>(b[2]?1:0)-(a[2]?1:0));
    toks.forEach(m=>{
      const a=dconv(+m[1]);const b=m[2]?dconv(+m[2]):a+3;
      add('rect',{x:a,y:y,width:Math.max(3,b-a),height:rowH,fill:mutCol[m[3]]},'e-mutation-'+g);
    });
    txt(x0-4,y+16,g,'e-gene-label-'+g,{'font-size':19,'text-anchor':'end','font-style':'italic',class:'nar'});
    txt(x1+3,y+16,pcts[r],'e-pct-'+g,{'font-size':17,class:'nar'});
    let bx=barX0;
    stacks[r].forEach(s=>{const w=s[1]*barPx/barMax;add('rect',{x:bx,y:y,width:w,height:rowH,fill:mutCol[s[0]]},'e-count-bar-'+g);bx+=w;});
  });
  add('rect',{x:x0,y:2081,width:x1-x0,height:36,fill:side=='left'?'#0000FF':'#FF0000'},'e-risk-bar-'+side);
  txt(x1+3,2106,'Risk','e-risk-label-'+side,{'font-size':17,class:'nar'});
}
oncoprint('left',131,640,dx,leftMut,leftPct,leftStack,leftTMB,613,691,137,41,'Altered in 137 (77.84%) or 176 samples',430,'613');
oncoprint('right',965,1470,dx,rightMut,rightPct,rightStack,rightTMB,1200,1520,139,74,'Altered in 159 (91.38%) or 174 samples',1279,'1200');
function legItem(x,y,col,s,nm){add('rect',{x:x,y:y-9,width:4,height:7,fill:col},nm+'-swatch');txt(x+12,y,s,nm,{'font-size':16,class:'nar'});}
[['Missense_Mutation','g',81,2142],['Frame_Shift_Del','b',81,2160],['Nonsense_Mutation','r',81,2178],['In_Frame_Del','y',81,2196],['Frame_Shift_Ins','p',279,2142],['In_Frame_Ins','i',279,2160],['Multi_Hit','k',279,2178]].forEach(l=>legItem(l[2],l[3],mutCol[l[1]],l[0],'e-legend-left'));
txt(442,2145,'Risk','e-legend-left-risk',{'font-size':16,class:'nar'});
legItem(451,2166,'#FF0000','High','e-legend-left');legItem(451,2184,'#0000FF','Low','e-legend-left');
[['Missense_Mutation','g',903,2145],['Nonsense_Mutation','r',903,2163],['Frame_Shift_Del','b',903,2181],['In_Frame_Del','y',1091,2145],['Frame_Shift_Ins','p',1091,2163],['Multi_Hit','k',1091,2181]].forEach(l=>legItem(l[2],l[3],mutCol[l[1]],l[0],'e-legend-right'));
txt(1252,2150,'Risk','e-legend-right-risk',{'font-size':16,class:'nar'});
legItem(1260,2170,'#FF0000','High','e-legend-right');legItem(1260,2188,'#0000FF','Low','e-legend-right');

/* ================= PANEL F: grouped boxplots ================= */
const fCats=['APC_co_inhibition','APC_co_ stimulation','CCR','Check-point','Cytolytic_activity','HLA','Inflammation-promoting','MHC_class_I','Parainflammation','T_cell_co-inhibition','T_cell_co-stimulation','Type_I_IFN_Reponse','Type_II_IFN_Reponse'];
const fSig=['ns','ns','ns','ns','*','ns','ns','***','ns','ns','ns','***','***'];
const fLow=[[0.297,0.437,0.498,0.56,0.72],[0.183,0.343,0.404,0.45,0.585],[0.185,0.279,0.316,0.36,0.443],[0.183,0.318,0.37,0.435,0.575],[0.365,0.585,0.662,0.748,0.975],[0.63,0.745,0.788,0.835,0.958],[0.165,0.385,0.465,0.54,0.76],[0.91,0.94,0.955,0.97,1.0],[0.577,0.648,0.688,0.728,0.805],[0.113,0.282,0.36,0.428,0.61],[0.12,0.33,0.405,0.483,0.66],[0.545,0.62,0.655,0.69,0.8],[0.36,0.515,0.578,0.62,0.75]];
const fHigh=[[0.232,0.434,0.504,0.577,0.766],[0.24,0.366,0.42,0.465,0.576],[0.207,0.283,0.325,0.365,0.468],[0.205,0.335,0.38,0.447,0.6],[0.365,0.535,0.608,0.743,0.95],[0.615,0.748,0.8,0.845,0.93],[0.185,0.397,0.47,0.56,0.8],[0.9,0.945,0.962,0.98,1.0],[0.538,0.655,0.69,0.735,0.822],[0.153,0.296,0.357,0.437,0.645],[0.115,0.34,0.418,0.495,0.688],[0.475,0.593,0.63,0.678,0.785],[0.285,0.455,0.51,0.573,0.683]];
const fLowOut=[[0.76,0.25],[0.16,0.135,0.145],[],[0.613],[],[],[0.8,0.113],[0.895],[],[0.698],[0.103],[0.84,0.8,0.515,0.51],[0.817,0.295,0.16,0.125,0.105,0.06]];
const fHighOut=[[0.885,0.848],[0.215,0.178],[],[0.627],[],[0.56,0.497],[0.807,0.143],[0.88,0.87,0.89],[],[0.7,0.69],[0.735],[0.845,0.83,0.455,0.44],[0.235,0.092,0.0]];
const fY=v=>2918-v*586;
const fX=i=>276+i*101.75;
function fBox(cx,s,outs,col,nm){
  add('line',{x1:cx,x2:cx,y1:fY(s[0]),y2:fY(s[1]),stroke:col,'stroke-width':3},nm+'-whisker');
  add('line',{x1:cx,x2:cx,y1:fY(s[3]),y2:fY(s[4]),stroke:col,'stroke-width':3},nm+'-whisker');
  add('rect',{x:cx-18.5,y:fY(s[3]),width:37,height:fY(s[1])-fY(s[3]),fill:'#fff',stroke:col,'stroke-width':3},nm+'-box');
  add('line',{x1:cx-18.5,x2:cx+18.5,y1:fY(s[2]),y2:fY(s[2]),stroke:col,'stroke-width':5},nm+'-median');
  outs.forEach(o=>{add('circle',{cx:cx,cy:fY(o),r:6,fill:col},nm+'-outlier');});
}
fCats.forEach((c,i)=>{
  fBox(fX(i)-20,fLow[i],fLowOut[i],'#0000FF','f-low-'+i);
  fBox(fX(i)+20,fHigh[i],fHighOut[i],'#FF0000','f-high-'+i);
  txt(fX(i),fSig[i]=='ns'?2332:2325,fSig[i],'f-significance-'+i,{'font-size':fSig[i]=='ns'?32:26,'text-anchor':'middle',fill:'#222'});
  add('line',{x1:fX(i),x2:fX(i),y1:2947,y2:2955,stroke:'#222','stroke-width':2},'f-xtick');
  txt(fX(i)+11,2970,c,'f-xtick-label-'+i,{'font-size':32,'text-anchor':'end',transform:`rotate(-90 ${fX(i)+11} 2970)`,fill:'#111'});
});
add('path',{d:'M216 2303V2947H1559',stroke:'#222','stroke-width':2.5,fill:'none'},'f-axes');
[0,0.25,0.5,0.75,1.0].forEach(v=>{add('line',{x1:209,x2:216,y1:fY(v),y2:fY(v),stroke:'#222','stroke-width':2},'f-ytick');txt(201,fY(v)+11,v.toFixed(2),'f-ytick-label',{'font-size':30,'text-anchor':'end',fill:'#333'});});
txt(112,2628,'Score','f-y-title',{'font-size':32,'text-anchor':'middle',transform:'rotate(-90 112 2628)'});
txt(718,2264,'Risk','f-legend-title',{'font-size':34,'text-anchor':'end'});
[[828,'#0000FF','Low',858],[958,'#FF0000','High',1000]].forEach(l=>{
  add('line',{x1:l[0],x2:l[0],y1:2233,y2:2281,stroke:l[1],'stroke-width':2.5},'f-legend-key-whisker');
  add('rect',{x:l[0]-19,y:2242,width:38,height:30,fill:'#fff',stroke:l[1],'stroke-width':3},'f-legend-key-box');
  add('line',{x1:l[0]-19,x2:l[0]+19,y1:2257,y2:2257,stroke:l[1],'stroke-width':3},'f-legend-key-median');
  txt(l[3],2264,l[2],'f-legend-'+l[2].toLowerCase(),{'font-size':34});
});
</script>
</body></html>
